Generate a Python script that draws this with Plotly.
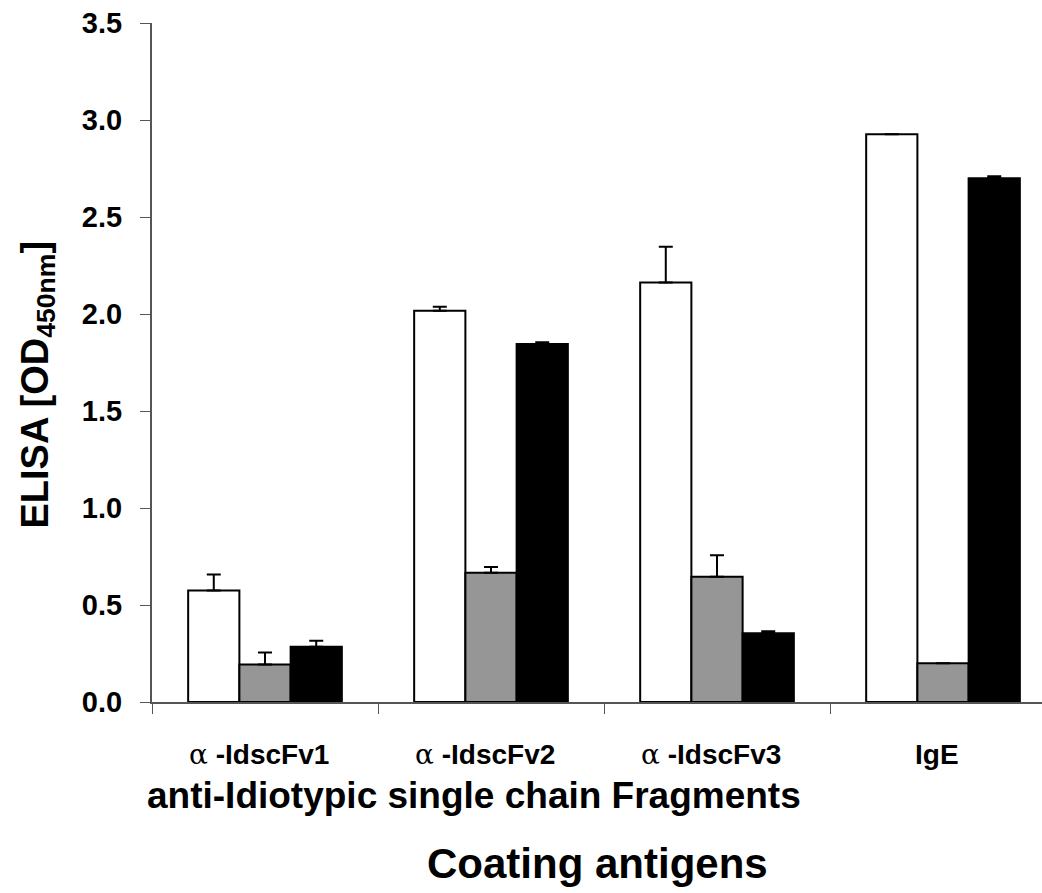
import plotly.graph_objects as go

categories = ["α-IdscFv1", "α-IdscFv2", "α-IdscFv3", "IgE"]
cat_labels = ["-IdscFv1", "-IdscFv2", "-IdscFv3", "IgE"]
cat_alpha = [True, True, True, False]

white_vals = [0.575, 2.017, 2.163, 2.926]
white_err = [0.082, 0.020, 0.184, 0.0]
gray_vals = [0.193, 0.666, 0.645, 0.200]
gray_err = [0.062, 0.030, 0.112, 0.0]
black_vals = [0.285, 1.845, 0.355, 2.700]
black_err = [0.031, 0.010, 0.010, 0.010]

y_ticks = [0.0, 0.5, 1.0, 1.5, 2.0, 2.5, 3.0, 3.5]

FONT = "Arial, 'Liberation Sans', sans-serif"

fig = go.Figure()
for vals, errs, fill in [(white_vals, white_err, "#ffffff"),
                         (gray_vals, gray_err, "#969696"),
                         (black_vals, black_err, "#000000")]:
    fig.add_trace(go.Bar(
        x=categories, y=vals,
        marker=dict(color=fill, line=dict(color="#000000", width=2)),
        error_y=dict(type="data", array=errs, arrayminus=[0]*len(errs), symmetric=False,
                     color="#000000", thickness=2, width=7),
        showlegend=False,
    ))

fig.update_layout(
    width=1042, height=893,
    margin=dict(l=152, r=0, t=23, b=191),
    paper_bgcolor="white", plot_bgcolor="white",
    barmode="group", bargap=0.32, bargroupgap=0,
    font=dict(family=FONT, color="black"),
)
fig.update_xaxes(
    type="category", range=[-0.5, 3.438],
    showline=True, linecolor="#555555", linewidth=2,
    ticks="outside", tickson="boundaries", ticklen=10, tickcolor="#555555", tickwidth=1,
    showticklabels=False, showgrid=False, zeroline=False,
)
fig.update_yaxes(
    range=[0, 3.5], tickvals=y_ticks, ticktext=[f"{v:.1f}" for v in y_ticks],
    showline=True, linecolor="#555555", linewidth=2,
    ticks="outside", ticklen=10, tickcolor="#555555", tickwidth=1,
    tickfont=dict(size=29, family=FONT, color="black", weight="bold"),
    ticklabelstandoff=12,
    showgrid=False, zeroline=False,
)

fig.add_annotation(x=0, xref="paper", xshift=-115, y=0.5, yref="paper", yshift=-22,
                   text="<b>ELISA [OD<sub>450nm</sub>]</b>", textangle=-90, showarrow=False,
                   font=dict(size=38, family=FONT, color="black"),
                   xanchor="center", yanchor="middle")

for c, lab, a in zip(categories, cat_labels, cat_alpha):
    if a:
        txt = "<span style='font-family:DejaVu Serif;font-weight:normal'>α</span> <b>" + lab + "</b>"
    else:
        txt = "<b>" + lab + "</b>"
    fig.add_annotation(x=c, y=0, xref="x", yref="paper", yshift=-52, xshift=-6, text=txt,
                       showarrow=False,
                       font=dict(size=28, family=FONT, color="black"), yanchor="middle")

fig.add_annotation(x=0.362, xref="paper", yref="paper", y=0, yshift=-93,
                   text="<b>anti-Idiotypic single chain Fragments</b>", showarrow=False,
                   font=dict(size=37, family=FONT, color="black"), yanchor="middle")
fig.add_annotation(x=0.5, xref="paper", yref="paper", y=0, yshift=-161,
                   text="<b>Coating antigens</b>", showarrow=False,
                   font=dict(size=42, family=FONT, color="black"), yanchor="middle")

fig.write_html("out.html")
